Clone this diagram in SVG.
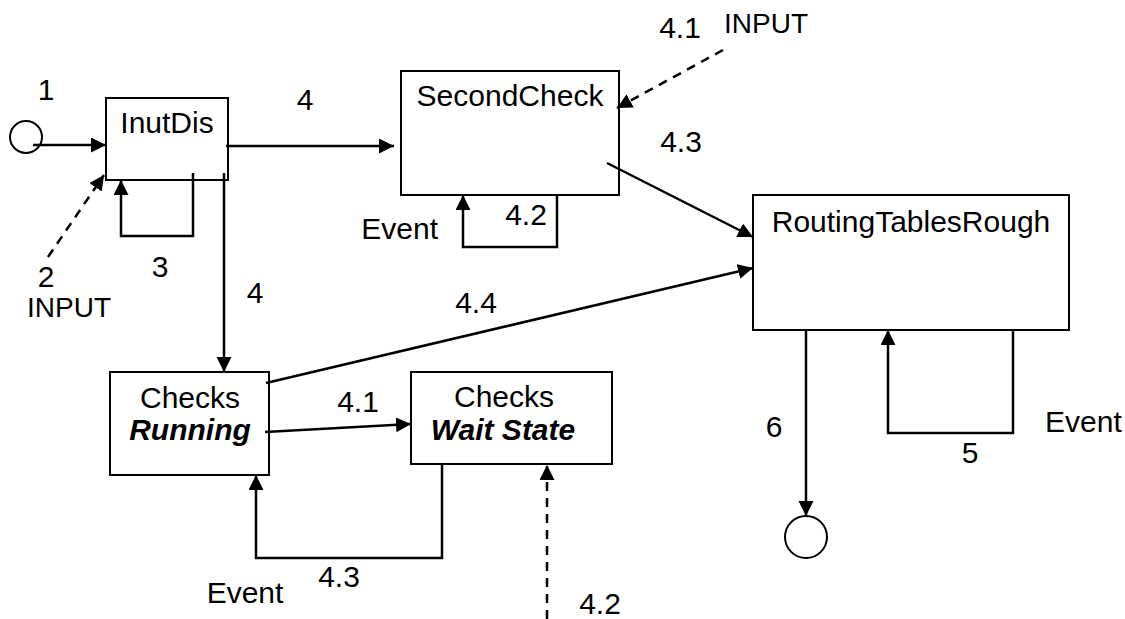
<svg xmlns="http://www.w3.org/2000/svg" width="1125" height="619" viewBox="0 0 1125 619">
<style>
.box{fill:#fff;stroke:#000;stroke-width:2}
.t{font-family:"Liberation Sans",Arial,sans-serif;font-size:30px;fill:#000}
.s{font-size:28px}
.c{text-anchor:middle}
.bi{font-weight:bold;font-style:italic}
.ln{fill:none;stroke:#000;stroke-width:2.5}
.ds{stroke-dasharray:9,7}
</style>
<defs>
<marker id="ah" markerUnits="userSpaceOnUse" markerWidth="16" markerHeight="16" refX="15" refY="7.5" orient="auto">
<path d="M0,0 L15,7.5 L0,15 z" fill="#000"/>
</marker>
</defs>
<rect width="1125" height="619" fill="#fff"/>
<g id="start">
<circle cx="26" cy="137" r="16" fill="none" stroke="#000" stroke-width="2"/>
</g>
<g id="end">
<circle cx="806" cy="537" r="21" fill="none" stroke="#000" stroke-width="2"/>
</g>
<g id="inutdis">
<rect class="box" x="106" y="98" width="122" height="82"/>
<text class="t c" x="167" y="133">InutDis</text>
</g>
<g id="secondcheck">
<rect class="box" x="401" y="71" width="218" height="124"/>
<text class="t c" x="510" y="106">SecondCheck</text>
</g>
<g id="routing">
<rect class="box" x="753" y="195" width="316" height="135"/>
<text class="t c" x="911" y="232">RoutingTablesRough</text>
</g>
<g id="running">
<rect class="box" x="110" y="372" width="159" height="103"/>
<text class="t c" x="190" y="408">Checks</text>
<text class="t c bi" x="190" y="440">Running</text>
</g>
<g id="waitstate">
<rect class="box" x="411" y="372" width="201" height="92"/>
<text class="t c" x="504" y="407">Checks</text>
<text class="t c bi" x="503" y="440">Wait State</text>
</g>
<g id="connectors">
<line class="ln" x1="33" y1="145" x2="106" y2="145" marker-end="url(#ah)"/>
<line class="ln ds" x1="48" y1="257" x2="104" y2="175" marker-end="url(#ah)"/>
<polyline class="ln" points="193,173 193,236 121,236 121,180" marker-end="url(#ah)"/>
<line class="ln" x1="226" y1="146" x2="394" y2="146" marker-end="url(#ah)"/>
<line class="ln" x1="224" y1="173" x2="224" y2="372" marker-end="url(#ah)"/>
<line class="ln ds" x1="723" y1="50" x2="617" y2="108" marker-end="url(#ah)"/>
<polyline class="ln" points="557,195 557,247 463,247 463,195" marker-end="url(#ah)"/>
<line class="ln" x1="607" y1="163" x2="753" y2="237" marker-end="url(#ah)"/>
<line class="ln" x1="266" y1="383" x2="753" y2="268" marker-end="url(#ah)"/>
<line class="ln" x1="265" y1="432" x2="411" y2="424" marker-end="url(#ah)"/>
<polyline class="ln" points="442,464 442,558 256,558 256,475" marker-end="url(#ah)"/>
<line class="ln ds" x1="547" y1="619" x2="547" y2="465" marker-end="url(#ah)"/>
<polyline class="ln" points="1013,330 1013,433 888,433 888,330" marker-end="url(#ah)"/>
<line class="ln" x1="806" y1="330" x2="806" y2="516" marker-end="url(#ah)"/>
</g>
<g id="labels">
<text class="t c" x="46" y="100">1</text>
<text class="t c" x="305" y="110">4</text>
<text class="t c" x="680" y="38">4.1</text>
<text class="t s c" x="766" y="33">INPUT</text>
<text class="t c" x="681" y="152">4.3</text>
<text class="t c" x="526" y="225">4.2</text>
<text class="t" x="438" y="239" text-anchor="end">Event</text>
<text class="t c" x="160" y="277">3</text>
<text class="t c" x="46" y="287">2</text>
<text class="t s c" x="69" y="317">INPUT</text>
<text class="t c" x="255" y="303">4</text>
<text class="t c" x="476" y="313">4.4</text>
<text class="t c" x="358" y="412">4.1</text>
<text class="t c" x="339" y="587">4.3</text>
<text class="t c" x="245" y="603">Event</text>
<text class="t c" x="600" y="614">4.2</text>
<text class="t c" x="774" y="437">6</text>
<text class="t c" x="970" y="463">5</text>
<text class="t" x="1045" y="432">Event</text>
</g>
</svg>
